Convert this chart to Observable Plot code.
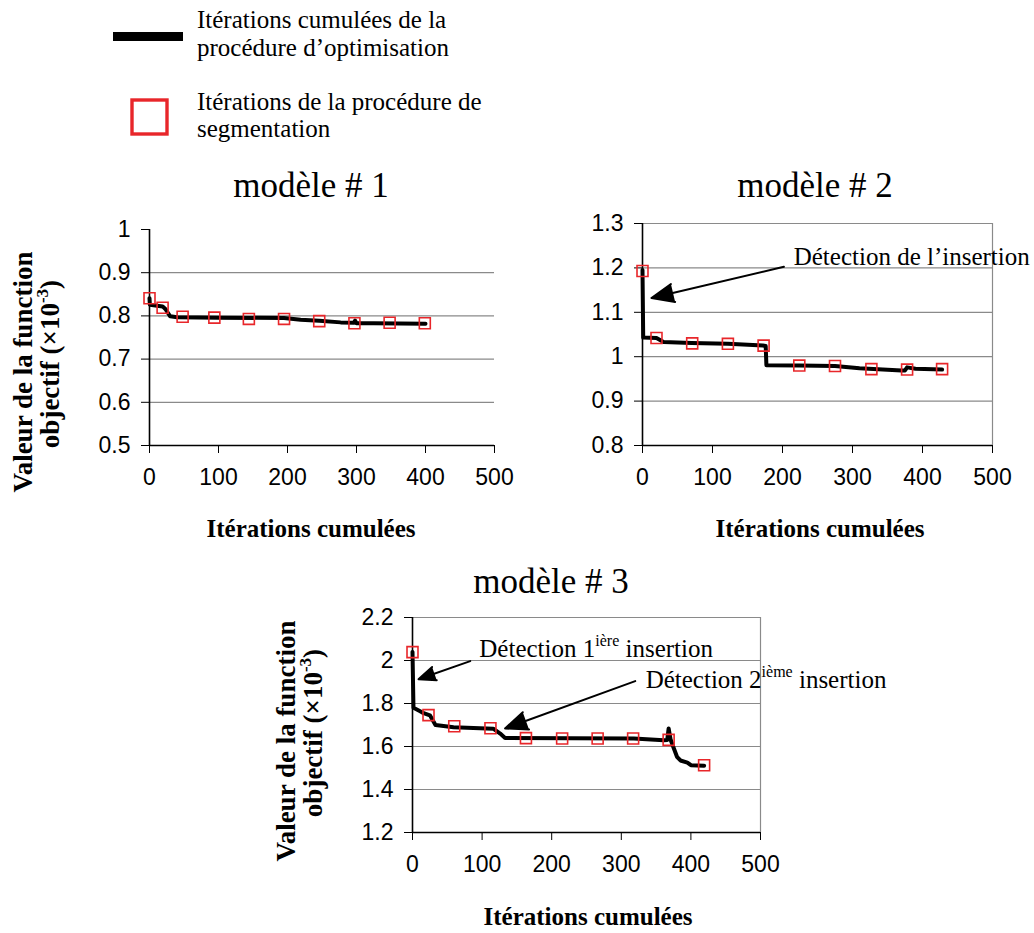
<!DOCTYPE html>
<html><head><meta charset="utf-8">
<script src="https://cdn.jsdelivr.net/npm/d3@7"></script>
<script src="https://cdn.jsdelivr.net/npm/@observablehq/plot@0.6"></script>
<style>
body{margin:0;background:#fff;}
#root{position:relative;width:1034px;height:933px;overflow:hidden;background:#fff;}
#root svg{position:absolute;}
</style></head><body><div id="root"></div>
<script>
// ---------- data ----------
const xTicks = [0, 100, 200, 300, 400, 500];

// modèle # 1
const m1Ticks = [0.5, 0.6, 0.7, 0.8, 0.9, 1];
const m1LineIter = [0, 0.5, 19, 23, 30, 40, 100, 195, 219, 246, 277, 296, 298, 300, 325, 400];
const m1LineVal  = [0.841, 0.826, 0.822, 0.816, 0.799, 0.797, 0.796, 0.795, 0.791, 0.789, 0.785, 0.784, 0.789, 0.783, 0.783, 0.782];
const m1SegIter = [0, 19, 48, 94, 144, 195, 246, 297, 348, 399];
const m1SegVal  = [0.841, 0.819, 0.798, 0.796, 0.793, 0.793, 0.788, 0.783, 0.784, 0.783];

// modèle # 2
const m2Ticks = [0.8, 0.9, 1, 1.1, 1.2, 1.3];
const m2LineIter = [0, 1, 20, 30, 70, 122, 172, 176, 177, 224, 275, 310, 370, 375, 378, 390, 428];
const m2LineVal  = [1.195, 1.043, 1.042, 1.033, 1.031, 1.029, 1.025, 1.024, 0.981, 0.980, 0.979, 0.974, 0.969, 0.969, 0.976, 0.973, 0.971];
const m2SegIter = [0, 20, 71, 122, 173, 224, 275, 327, 378, 428];
const m2SegVal  = [1.193, 1.042, 1.030, 1.029, 1.025, 0.980, 0.979, 0.972, 0.971, 0.972];
const m2NoteText = ["Détection de l’insertion"];
const m2NoteIter = [216];
const m2NoteVal  = [1.206];
const m2ArrowFrom = [[202, 1.2025]];
const m2ArrowTo   = [[12.8, 1.132]];

// modèle # 3
const m3Ticks = [1.2, 1.4, 1.6, 1.8, 2, 2.2];
const m3LineIter = [0, 1.4, 11, 16, 25, 33, 59, 116, 126, 133, 318, 361, 366, 368, 371, 380, 385, 395, 400, 419];
const m3LineVal  = [2.04, 1.78, 1.764, 1.755, 1.745, 1.70, 1.69, 1.683, 1.66, 1.64, 1.637, 1.629, 1.63, 1.684, 1.63, 1.552, 1.535, 1.525, 1.513, 1.511];
const m3SegIter = [0, 23, 60, 112, 163, 215, 266, 317, 368, 419];
const m3SegVal  = [2.039, 1.746, 1.694, 1.685, 1.639, 1.637, 1.637, 1.637, 1.631, 1.513];
const m3NoteMain = ["Détection 1", "Détection 2"];
const m3NoteSup  = ["ière", "ième"];
const m3NoteRest = [" insertion", " insertion"];
const m3NoteIter = [96, 335];
const m3NoteVal  = [2.017, 1.87];
const m3ArrowFrom = [[83, 1.997], [320, 1.904]];
const m3ArrowTo   = [[8.6, 1.913], [133, 1.684]];

// texts
const legendLine1 = ["Itérations cumulées de la", "procédure d’optimisation"];
const legendLine2 = ["Itérations de la procédure de", "segmentation"];
const panelTitles = ["modèle # 1", "modèle # 2", "modèle # 3"];
const xTitle = "Itérations cumulées";
const yTitle1 = "Valeur de la function";
const yTitle2 = ["objectif (×10", "-3", ")"];

// ---------- helpers ----------
const SERIF = "'Liberation Serif', 'Times New Roman', serif";
const SANS = "'Liberation Sans', Arial, sans-serif";
const RED = "#e8262a";
const GRID = "#8a8a8a";
const root = document.getElementById("root");
const ns = "http://www.w3.org/2000/svg";

function zip(xs, ys) { return xs.map((x, i) => ({x, y: ys[i]})); }

// overlay with legend & titles
const ov = document.createElementNS(ns, "svg");
ov.setAttribute("width", 1034); ov.setAttribute("height", 933);
ov.style.left = "0px"; ov.style.top = "0px";
root.appendChild(ov);
function txt(parent, s, attrs) {
  const t = document.createElementNS(ns, "text");
  for (const k in attrs) t.setAttribute(k, attrs[k]);
  t.textContent = s; parent.appendChild(t); return t;
}
function rect(attrs) {
  const r = document.createElementNS(ns, "rect");
  for (const k in attrs) r.setAttribute(k, attrs[k]);
  ov.appendChild(r);
}
rect({x: 113, y: 32, width: 70, height: 9, fill: "black"});
rect({x: 132, y: 100, width: 35, height: 34, fill: "none", stroke: RED, "stroke-width": 3.4});
const legStyle = {"font-family": SERIF, "font-size": 25, fill: "black"};
txt(ov, legendLine1[0], {...legStyle, x: 197, y: 28});
txt(ov, legendLine1[1], {...legStyle, x: 197, y: 56});
txt(ov, legendLine2[0], {...legStyle, x: 197, y: 110});
txt(ov, legendLine2[1], {...legStyle, x: 197, y: 137});

const titleStyle = {"font-family": SERIF, "font-size": 35, "text-anchor": "middle"};
txt(ov, panelTitles[0], {...titleStyle, x: 311, y: 197});
txt(ov, panelTitles[1], {...titleStyle, x: 815, y: 197});
txt(ov, panelTitles[2], {...titleStyle, x: 551, y: 593});

const xtStyle = {"font-family": SERIF, "font-size": 25, "font-weight": "bold", "text-anchor": "middle"};
txt(ov, xTitle, {...xtStyle, x: 311, y: 537});
txt(ov, xTitle, {...xtStyle, x: 820, y: 537});
txt(ov, xTitle, {...xtStyle, x: 588, y: 925});

function yTitle(bx1, cy1, bx2, cy2) {
  const st = {"font-family": SERIF, "font-size": 27, "font-weight": "bold", "text-anchor": "middle"};
  txt(ov, yTitle1, {...st, transform: `translate(${bx1},${cy1}) rotate(-90)`});
  const t = txt(ov, "", {...st, transform: `translate(${bx2},${cy2}) rotate(-90)`});
  t.innerHTML = `${yTitle2[0]}<tspan dy="-11" font-size="17">${yTitle2[1]}</tspan><tspan dy="11">${yTitle2[2]}</tspan>`;
}
yTitle(32, 372, 59, 364);
yTitle(295, 741, 322, 733);

function panel(cfg) {
  const {x0, x1, yTop, yBot, yTicks, frame, line, seg, notes, arrows} = cfg;
  const L = x0 - 95, T = yTop - 30;
  const mL = x0 - L, mT = yTop - T, mR = 40, mB = 60;
  const width = x1 - L + mR, height = yBot - T + mB;
  const yDomain = [yTicks[0], yTicks[yTicks.length - 1]];
  const grid = yTicks.slice(1, -1);
  const marks = [Plot.ruleY(grid, {stroke: GRID, strokeWidth: 1.2})];
  if (frame) marks.push(Plot.ruleY([yDomain[1]], {stroke: GRID, strokeWidth: 1.2}), Plot.ruleX([500], {stroke: GRID, strokeWidth: 1.2}));
  marks.push(Plot.ruleX([0], {stroke: "black", strokeWidth: 1.6}));
  marks.push(Plot.ruleY([yDomain[0]], {stroke: "black", strokeWidth: 1.6}));
  marks.push(Plot.line(line, {x: "x", y: "y", stroke: "black", strokeWidth: 4, strokeLinejoin: "round", strokeLinecap: "round"}));
  marks.push(Plot.dot(seg, {x: "x", y: "y", symbol: "square", r: 6.2, stroke: RED, strokeWidth: 1.6, fill: "none"}));
  if (arrows) marks.push(Plot.arrow(arrows, {x1: "x1", y1: "y1", x2: "x2", y2: "y2", stroke: "black", fill: "black", strokeWidth: 2, headLength: 18, headAngle: 45}));
  if (notes) marks.push(Plot.text(notes, {x: "x", y: "y", text: "text", textAnchor: "start", lineAnchor: "bottom", fontFamily: SERIF, fontSize: 25, fill: "black"}));
  const svg = Plot.plot({
    width, height, marginLeft: mL, marginRight: mR, marginTop: mT, marginBottom: mB,
    style: {fontFamily: SANS, fontSize: "23px", color: "black", background: "transparent", overflow: "visible"},
    x: {domain: [0, 500], ticks: xTicks, tickSize: 8, tickPadding: 15, label: null, tickFormat: d => String(d)},
    y: {domain: yDomain, ticks: yTicks, tickSize: 8, tickPadding: 11, label: null, tickFormat: d => String(d)},
    marks
  });
  svg.style.left = L + "px"; svg.style.top = T + "px"; svg.style.position = "absolute";
  root.appendChild(svg);
  return svg;
}

function arrowRows(from, to) { return from.map((f, i) => ({x1: f[0], y1: f[1], x2: to[i][0], y2: to[i][1]})); }

panel({x0: 149, x1: 494, yTop: 229, yBot: 445, yTicks: m1Ticks, frame: false,
  line: zip(m1LineIter, m1LineVal), seg: zip(m1SegIter, m1SegVal)});

panel({x0: 642, x1: 992, yTop: 223, yBot: 445, yTicks: m2Ticks, frame: true,
  line: zip(m2LineIter, m2LineVal), seg: zip(m2SegIter, m2SegVal),
  notes: m2NoteText.map((t, i) => ({text: t, x: m2NoteIter[i], y: m2NoteVal[i]})),
  arrows: arrowRows(m2ArrowFrom, m2ArrowTo)});

const s3 = panel({x0: 412, x1: 760, yTop: 617, yBot: 832, yTicks: m3Ticks, frame: true,
  line: zip(m3LineIter, m3LineVal), seg: zip(m3SegIter, m3SegVal),
  notes: m3NoteMain.map((t, i) => ({text: t + m3NoteSup[i] + m3NoteRest[i], x: m3NoteIter[i], y: m3NoteVal[i]})),
  arrows: arrowRows(m3ArrowFrom, m3ArrowTo)});

// superscripts in annotations
s3.querySelectorAll("text").forEach(t => {
  m3NoteMain.forEach((m, i) => {
    if (t.textContent === m + m3NoteSup[i] + m3NoteRest[i]) {
      t.textContent = "";
      t.appendChild(document.createTextNode(m));
      const sup = document.createElementNS(ns, "tspan");
      sup.setAttribute("dy", "-11"); sup.setAttribute("font-size", "16"); sup.textContent = m3NoteSup[i];
      const rest = document.createElementNS(ns, "tspan");
      rest.setAttribute("dy", "11"); rest.textContent = m3NoteRest[i];
      t.appendChild(sup); t.appendChild(rest);
    }
  });
});
</script></body></html>
